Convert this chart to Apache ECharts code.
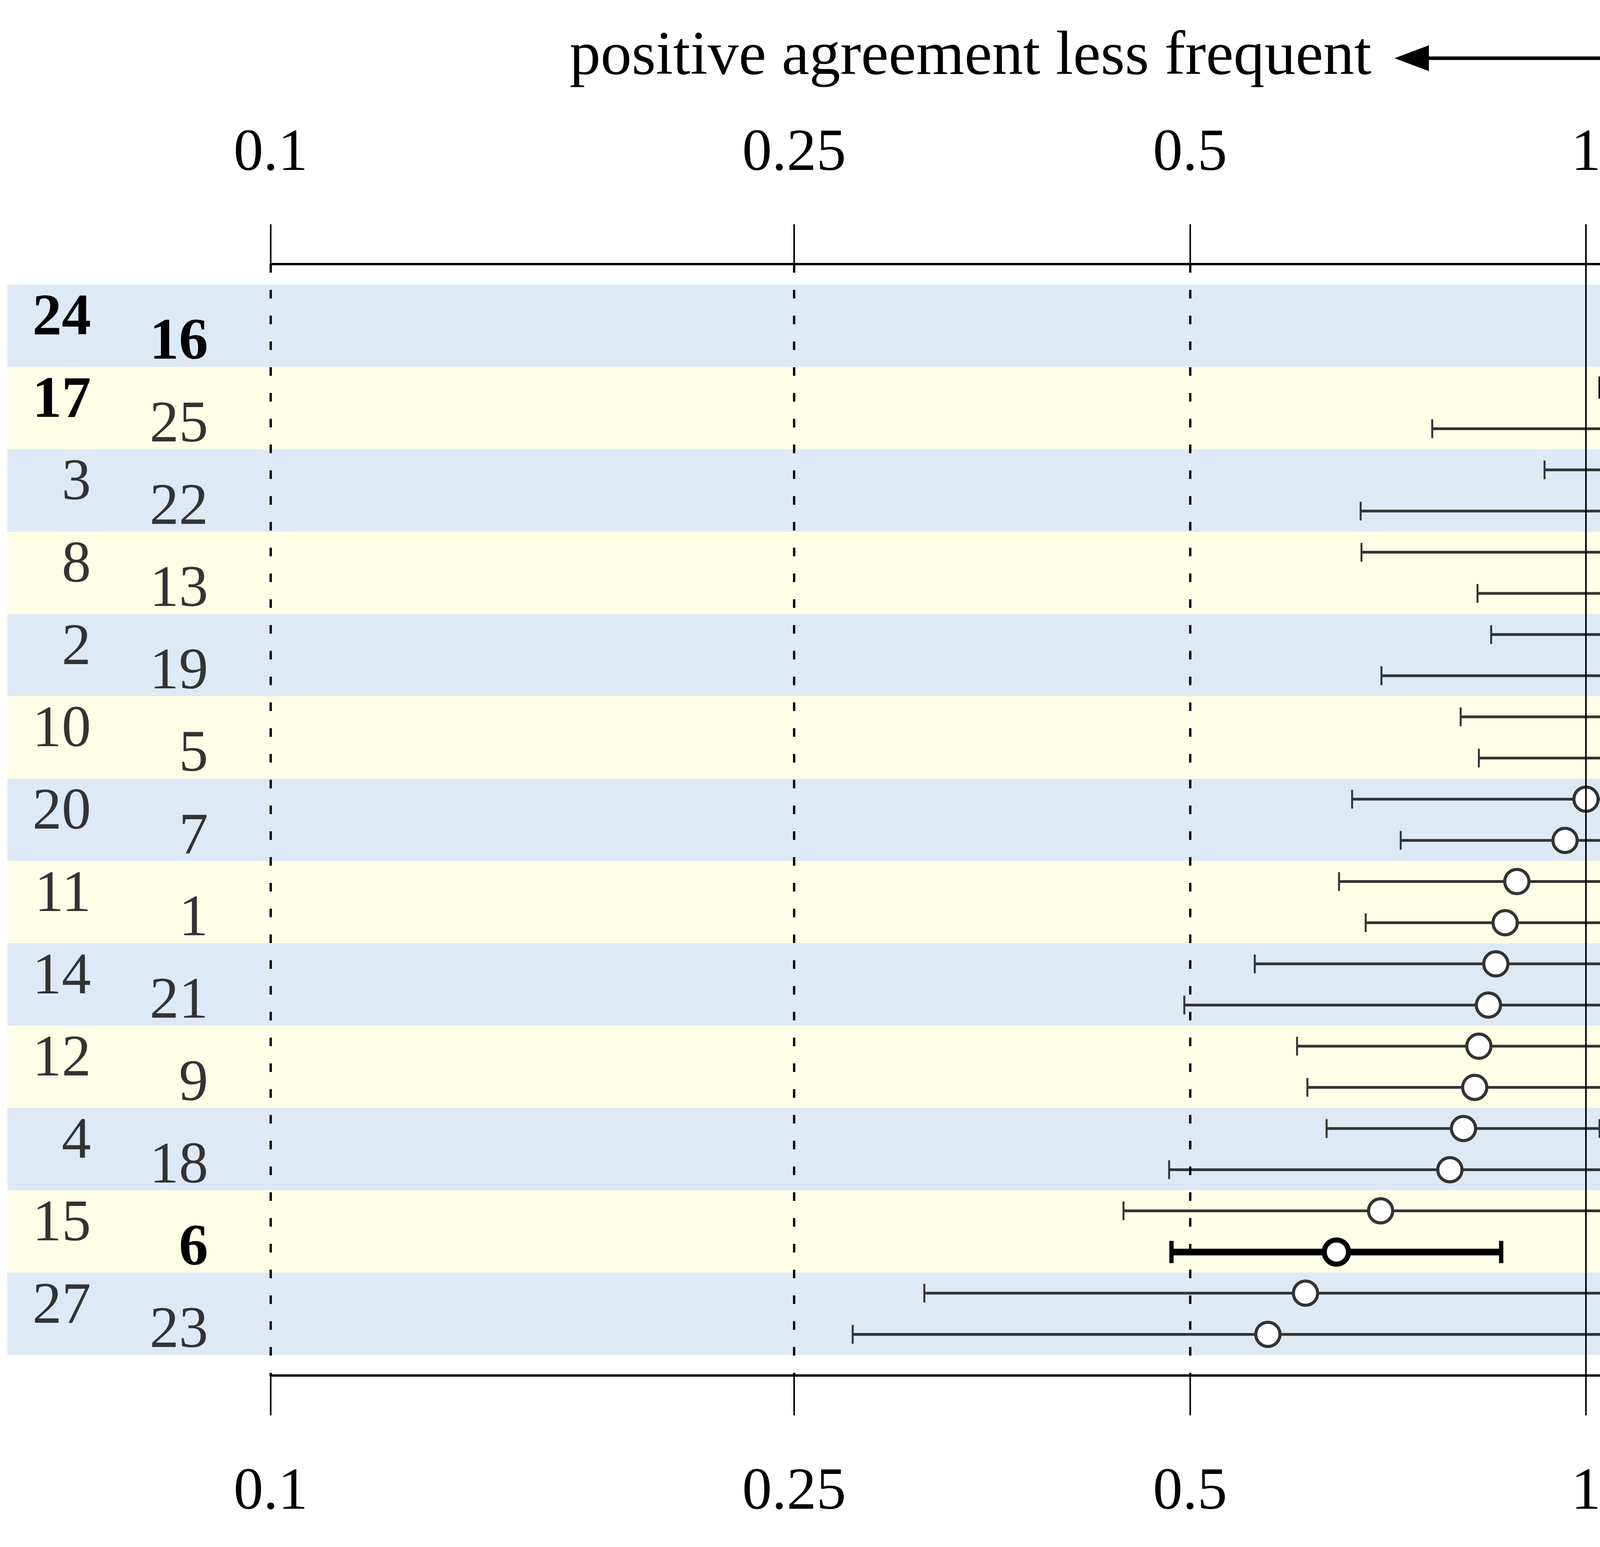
<!DOCTYPE html>
<html>
<head>
<meta charset="utf-8">
<title>positive agreement</title>
<style>
    html, body { margin: 0; padding: 0; background: #fff; }
    #main { width: 7440px; height: 3960px; }
</style>
<script src="https://cdn.jsdelivr.net/npm/echarts@6/dist/echarts.min.js"></script>
</head>
<body>
<div id="main"></div>
<script>
// 行标签（从上到下）
var labels = ['24', '16', '17', '25', '3', '22', '8', '13', '2', '19', '10', '5', '20',
    '7', '11', '1', '14', '21', '12', '9', '4', '18', '15', '6', '27', '23'];
// 点估计
var est = [1.98, 1.965, 1.456, 1.318, 1.181, 1.164, 1.134, 1.123, 1.077, 1.077, 1.068, 1.06, 1.0,
    0.964, 0.886, 0.868, 0.854, 0.843, 0.829, 0.823, 0.807, 0.788, 0.698, 0.646, 0.612, 0.573];
// 置信区间下限
var low = [1.32, 1.309, 1.026, 0.764, 0.93, 0.674, 0.675, 0.827, 0.847, 0.699, 0.803, 0.829, 0.664,
    0.723, 0.649, 0.68, 0.56, 0.495, 0.603, 0.614, 0.635, 0.482, 0.445, 0.484, 0.314, 0.277];
// 置信区间上限
var high = [2.98, 2.965, 2.066, 2.271, 1.501, 2.01, 1.909, 1.525, 1.372, 1.662, 1.426, 1.358, 1.516,
    1.286, 1.209, 1.109, 1.298, 1.44, 1.141, 1.102, 1.024, 1.288, 1.096, 0.862, 1.198, 1.188];
// 显著的行（粗体）
var highlighted = ['24', '16', '17', '6'];
// 坐标轴刻度
var tickValues = [0.1, 0.25, 0.5, 1, 2, 4, 8];
var tickLabels = ['0.1', '0.25', '0.5', '1', '2', '4', '8'];

var serif = 'Liberation Serif';

function isHi(i) {
    return highlighted.indexOf(labels[i]) >= 0;
}

function tickText(v) {
    var best = 0;
    for (var k = 1; k < tickValues.length; k++) {
        if (Math.abs(Math.log(v / tickValues[k])) < Math.abs(Math.log(v / tickValues[best]))) best = k;
    }
    return tickLabels[best];
}

// 背景色带：每两行一条
var bands = [];
for (var k = 0; k < labels.length / 2; k++) {
    bands.push([tickValues[0], tickValues[tickValues.length - 1], 2 * k - 0.5, 2 * k + 1.5]);
}

function axisX(pos) {
    return {
        type: 'log',
        position: pos,
        min: 0.1,
        max: 8,
        axisLine: { show: true, onZero: false, lineStyle: { color: '#000', width: 6 } },
        axisTick: { show: true, length: 102, customValues: tickValues, lineStyle: { color: '#000', width: 4 } },
        axisLabel: {
            customValues: tickValues,
            margin: pos === 'top' ? 205 : 225,
            fontSize: 152,
            fontFamily: serif,
            color: '#000',
            formatter: tickText
        },
        splitLine: { show: false }
    };
}

var myChart = echarts.init(document.getElementById('main'));
var option = {
    animation: false,
    backgroundColor: '#fff',
    grid: { left: 693, right: 339, top: 676, bottom: 439 },
    xAxis: [axisX('top'), axisX('bottom')],
    yAxis: { type: 'value', inverse: true, min: -1, max: 26, show: false },
    graphic: [
        {
            type: 'text', x: 3511, y: 147, z: 10,
            style: { text: 'positive agreement less frequent', fontSize: 159, fontFamily: serif, fill: '#000', align: 'right', verticalAlign: 'middle' }
        },
        {
            type: 'text', x: 4603, y: 147, z: 10,
            style: { text: 'positive agreement more frequent', fontSize: 159, fontFamily: serif, fill: '#000', align: 'left', verticalAlign: 'middle' }
        },
        {
            type: 'line', z: 10,
            shape: { x1: 3640, y1: 149, x2: 4480, y2: 149 },
            style: { stroke: '#000', lineWidth: 9 }
        },
        {
            type: 'polygon', z: 10,
            shape: { points: [[3570, 149], [3658, 116], [3658, 182]] },
            style: { fill: '#000' }
        },
        {
            type: 'polygon', z: 10,
            shape: { points: [[4550, 149], [4462, 116], [4462, 182]] },
            style: { fill: '#000' }
        }
    ],
    series: [
        // 色带
        {
            type: 'custom',
            z: 0,
            silent: true,
            encode: { x: [0, 1], y: [2, 3] },
            renderItem: function (params, api) {
                var tl = api.coord([api.value(0), api.value(2)]);
                var br = api.coord([api.value(1), api.value(3)]);
                var left = tl[0] - 674;
                return {
                    type: 'rect',
                    shape: { x: left, y: tl[1], width: br[0] - left, height: br[1] - tl[1] },
                    style: { fill: params.dataIndex % 2 ? '#fefee6' : '#dde9f5' }
                };
            },
            data: bands
        },
        // 参考线
        {
            type: 'line',
            z: 1,
            data: [],
            markLine: {
                silent: true,
                symbol: ['none', 'none'],
                label: { show: false },
                lineStyle: { color: '#000', width: 6, type: [22, 44] },
                data: tickValues.map(function (v) {
                    return v === 1 ? { xAxis: v, lineStyle: { type: 'solid', width: 4 } } : { xAxis: v };
                })
            }
        },
        // 误差线
        {
            type: 'custom',
            z: 2,
            silent: true,
            encode: { x: [0, 1], y: 2 },
            renderItem: function (params, api) {
                var i = api.value(2);
                var p0 = api.coord([api.value(0), i]);
                var p1 = api.coord([api.value(1), i]);
                var strong = isHi(i);
                var color = strong ? '#000' : '#333';
                var cap = strong ? 57 : 48;
                var capW = strong ? 11 : 5;
                return {
                    type: 'group',
                    children: [
                        { type: 'line', shape: { x1: p0[0], y1: p0[1], x2: p1[0], y2: p1[1] }, style: { stroke: color, lineWidth: strong ? 17 : 7 } },
                        { type: 'line', shape: { x1: p0[0], y1: p0[1] - cap / 2, x2: p0[0], y2: p0[1] + cap / 2 }, style: { stroke: color, lineWidth: capW } },
                        { type: 'line', shape: { x1: p1[0], y1: p1[1] - cap / 2, x2: p1[0], y2: p1[1] + cap / 2 }, style: { stroke: color, lineWidth: capW } }
                    ]
                };
            },
            data: labels.map(function (l, i) { return [low[i], high[i], i]; })
        },
        // 点估计
        {
            type: 'scatter',
            z: 3,
            symbol: 'circle',
            symbolSize: 62,
            itemStyle: { color: '#fff', borderColor: '#333', borderWidth: 8, opacity: 1 },
            data: labels.map(function (l, i) {
                var item = { value: [est[i], i] };
                if (isHi(i)) item.itemStyle = { borderColor: '#000', borderWidth: 13 };
                return item;
            })
        },
        // 行标签
        {
            type: 'custom',
            z: 3,
            silent: true,
            encode: { x: 0, y: 1 },
            renderItem: function (params, api) {
                var i = api.value(1);
                var p = api.coord([api.value(0), i]);
                var odd = i % 2 === 1;
                var strong = isHi(i);
                return {
                    type: 'text',
                    x: p[0] - (odd ? 160 : 460),
                    y: p[1] + (odd ? -7 : 36),
                    style: {
                        text: labels[i],
                        fontSize: 150,
                        fontFamily: serif,
                        fontWeight: strong ? 'bold' : 'normal',
                        fill: strong ? '#000' : '#333',
                        align: 'right',
                        verticalAlign: 'middle'
                    }
                };
            },
            data: labels.map(function (l, i) { return [0.1, i]; })
        }
    ]
};
myChart.setOption(option);
window.addEventListener('resize', function () {
    myChart.resize();
});
</script>
</body>
</html>
